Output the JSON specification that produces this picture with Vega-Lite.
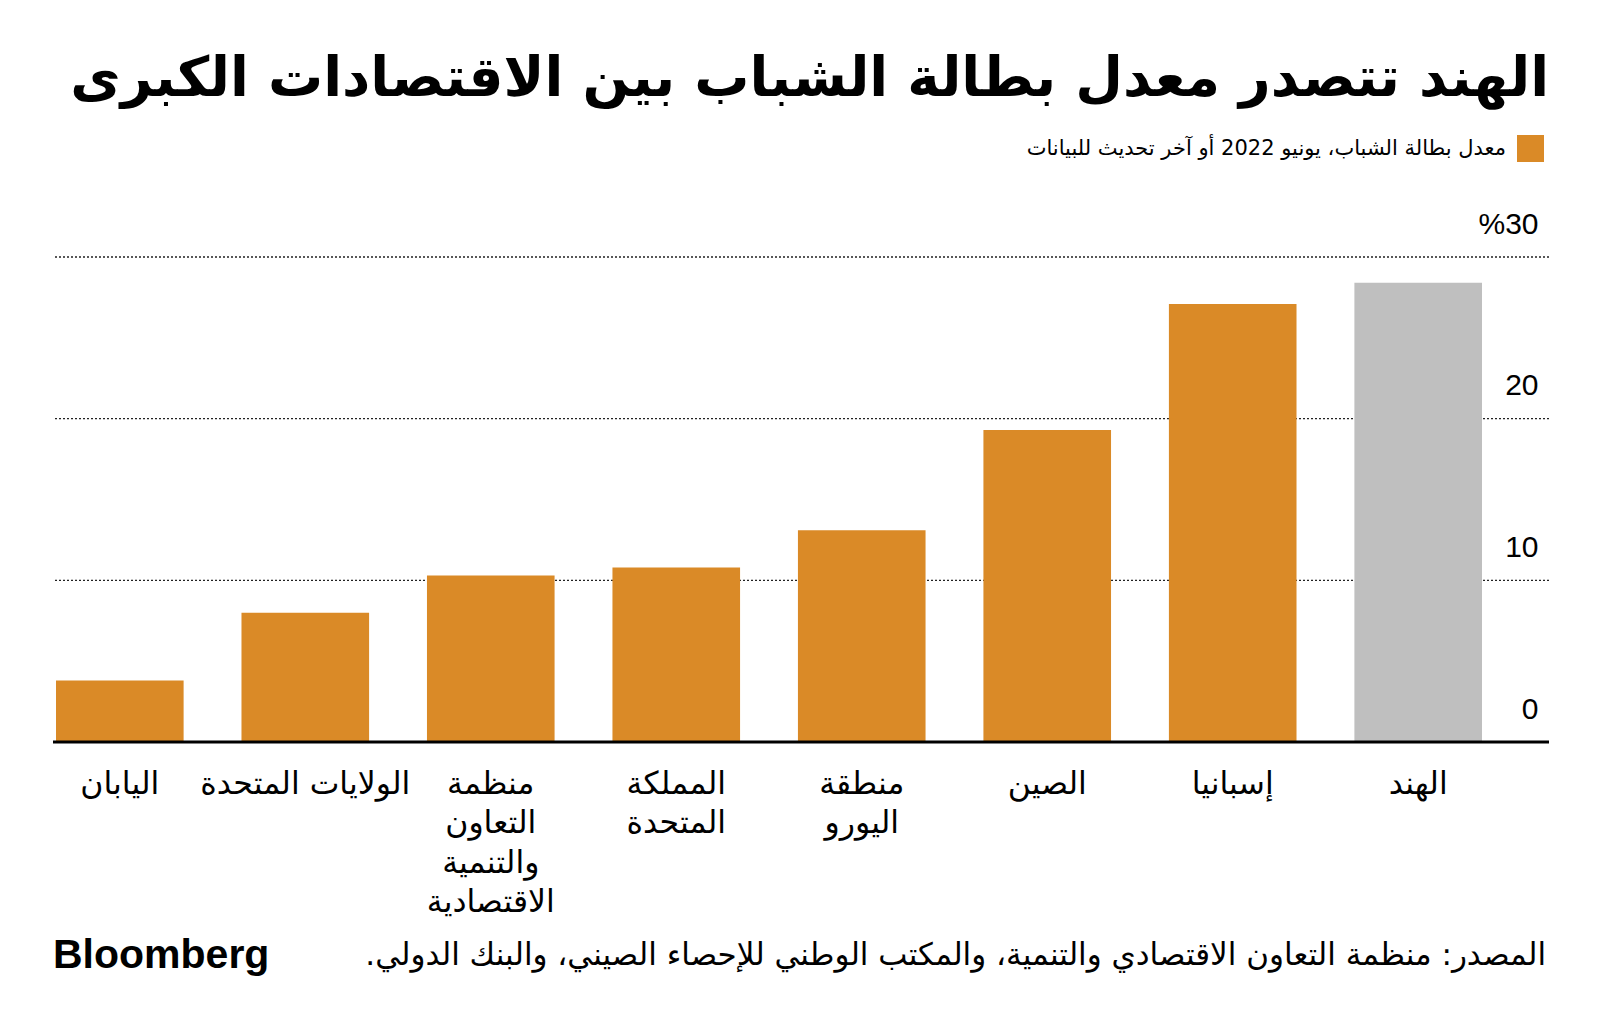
{
  "$schema": "https://vega.github.io/schema/vega-lite/v6.json",
  "width": 1496,
  "height": 485,
  "autosize": {"type": "none"},
  "padding": {"left": 53, "top": 257, "right": 51, "bottom": 291},
  "background": "white",
  "title": {
    "text": "الهند تتصدر معدل بطالة الشباب بين الاقتصادات الكبرى",
    "anchor": "end",
    "frame": "group",
    "font": "DejaVu Sans",
    "fontSize": 55,
    "fontWeight": "bold",
    "color": "#000000",
    "baseline": "alphabetic",
    "offset": -16
  },
  "config": {
    "view": {"stroke": null},
    "font": "DejaVu Sans"
  },
  "data": {
    "values": [
      {"country": "اليابان", "value": 3.8, "series": "معدل بطالة الشباب، يونيو 2022 أو آخر تحديث للبيانات"},
      {"country": "الولايات المتحدة", "value": 8.0, "series": "معدل بطالة الشباب، يونيو 2022 أو آخر تحديث للبيانات"},
      {"country": "منظمة التعاون والتنمية الاقتصادية", "value": 10.3, "series": "معدل بطالة الشباب، يونيو 2022 أو آخر تحديث للبيانات"},
      {"country": "المملكة المتحدة", "value": 10.8, "series": "معدل بطالة الشباب، يونيو 2022 أو آخر تحديث للبيانات"},
      {"country": "منطقة اليورو", "value": 13.1, "series": "معدل بطالة الشباب، يونيو 2022 أو آخر تحديث للبيانات"},
      {"country": "الصين", "value": 19.3, "series": "معدل بطالة الشباب، يونيو 2022 أو آخر تحديث للبيانات"},
      {"country": "إسبانيا", "value": 27.1, "series": "معدل بطالة الشباب، يونيو 2022 أو آخر تحديث للبيانات"},
      {"country": "الهند", "value": 28.4, "series": "معدل بطالة الشباب، يونيو 2022 أو آخر تحديث للبيانات"}
    ]
  },
  "layer": [
    {
      "data": {"values": [{"tick": 10}, {"tick": 20}, {"tick": 30}]},
      "mark": {"type": "rule", "color": "#222222", "strokeWidth": 1.3, "strokeDash": [2, 2]},
      "encoding": {"y": {"field": "tick", "type": "quantitative"}}
    },
    {
      "mark": {"type": "bar"},
      "encoding": {
        "x": {
          "field": "country",
          "type": "nominal",
          "sort": {"field": "value", "order": "ascending"},
          "scale": {"range": [3, 1429], "paddingInner": 0.312, "paddingOuter": 0},
          "axis": {
            "title": null,
            "domain": false,
            "ticks": false,
            "labelAngle": 0,
            "labelAlign": "center",
            "labelBaseline": "top",
            "labelPadding": 26,
            "labelFont": "DejaVu Sans",
            "labelFontSize": 31.5,
            "labelColor": "#000000",
            "labelLineHeight": 39.5,
            "labelLimit": 1000,
            "labelExpr": "datum.value == 'منظمة التعاون والتنمية الاقتصادية' ? ['منظمة','التعاون','والتنمية','الاقتصادية'] : datum.value == 'المملكة المتحدة' ? ['المملكة','المتحدة'] : datum.value == 'منطقة اليورو' ? ['منطقة','اليورو'] : datum.label"
          }
        },
        "y": {
          "field": "value",
          "type": "quantitative",
          "scale": {"domain": [0, 30], "nice": false},
          "axis": {
            "orient": "right",
            "title": null,
            "domain": false,
            "ticks": false,
            "grid": false,
            "values": [0, 10, 20, 30],
            "labelAlign": "right",
            "labelPadding": -11,
            "labelBaseline": "alphabetic",
            "labelOffset": -24,
            "labelFont": "Liberation Sans",
            "labelFontSize": 30,
            "labelColor": "#000000",
            "labelExpr": "datum.value == 30 ? '%30' : datum.label"
          }
        },
        "color": {
          "field": "series",
          "type": "nominal",
          "scale": {"range": ["#DA8A27"]},
          "condition": {"test": "datum.country == 'الهند'", "value": "#BFBFBF"},
          "legend": {
            "orient": "none",
            "legendX": 1464,
            "legendY": -122,
            "title": null,
            "padding": 0,
            "symbolType": "square",
            "symbolSize": 729,
            "symbolStrokeWidth": 0,
            "labelFont": "DejaVu Sans",
            "labelFontSize": 21,
            "labelColor": "#000000",
            "labelAlign": "right",
            "labelOffset": -38,
            "labelLimit": 1000
          }
        }
      }
    },
    {
      "data": {"values": [{"base": 0}]},
      "mark": {"type": "rule", "color": "#000000", "strokeWidth": 3},
      "encoding": {"y": {"field": "base", "type": "quantitative"}}
    },
    {
      "data": {"values": [{"t": "المصدر: منظمة التعاون الاقتصادي والتنمية، والمكتب الوطني للإحصاء الصيني، والبنك الدولي.‏"}]},
      "mark": {"type": "text", "align": "right", "baseline": "middle", "font": "DejaVu Sans", "fontSize": 31, "color": "#000000"},
      "encoding": {"text": {"field": "t"}, "x": {"value": 1493}, "y": {"value": 699}}
    },
    {
      "data": {"values": [{"t": "Bloomberg"}]},
      "mark": {"type": "text", "align": "left", "baseline": "middle", "font": "Liberation Sans", "fontWeight": 900, "fontSize": 41, "color": "#000000", "letterSpacing": -1.5},
      "encoding": {"text": {"field": "t"}, "x": {"value": 0}, "y": {"value": 699}}
    }
  ]
}
